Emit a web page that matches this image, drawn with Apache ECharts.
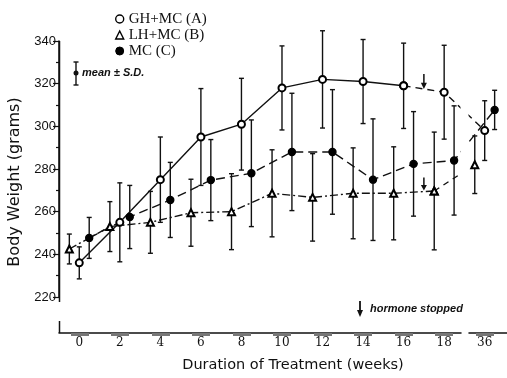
<!DOCTYPE html>
<html>
<head>
<meta charset="utf-8">
<script src="https://cdn.jsdelivr.net/npm/echarts@6/dist/echarts.min.js"></script>
<style>
  html, body { margin: 0; padding: 0; background: #fff; }
  #chart { width: 507px; height: 378px; }
</style>
</head>
<body>
<div id="chart"></div>
<script>
// weeks of treatment (axis is broken between 18 and 36)
const weeks = [0, 2, 4, 6, 8, 10, 12, 14, 16, 18, 36];

// GH + MC (A)
const meanA = [236, 255, 275, 295, 301, 318, 322, 321, 319, 316, 298];
const sdA = [7.5, 18.5, 20, 22.7, 21.5, 19.7, 22.8, 19.7, 20, 22, 14];
// LH + MC (B)
const meanB = [242.5, 253, 255, 259.5, 260, 268.6, 266.7, 268.6, 268.6, 269.7, 282];
const sdB = [7, 11.7, 14.5, 15.7, 17.8, 20.4, 20.5, 21.3, 21.8, 27.6, 13.5];
// MC (C)
const meanC = [247.7, 257.5, 265.5, 274.8, 278, 288, 288, 275, 282.4, 284, 307.7];
const sdC = [9.6, 14.8, 17.6, 19, 25, 27.5, 29.2, 28.5, 24.5, 25.6, 9.2];

const seriesNames = ['GH+MC (A)', 'LH+MC (B)', 'MC (C)'];
const hormoneStopWeek = 17;

// groups are drawn a little apart so the bars don't sit on top of each other
const shiftA = 0, shiftB = -0.49, shiftC = 0.49;

const chart = echarts.init(document.getElementById('chart'), null, { renderer: 'canvas' });

function points(means, shift, from, to) {
  const out = [];
  for (let i = from; i <= to; i++) out.push([weeks[i] + shift, means[i]]);
  return out;
}

function errorBars(means, sds, shift) {
  return {
    type: 'custom',
    silent: true,
    z: 1,
    data: weeks.map((w, i) => [w + shift, means[i] - sds[i], means[i] + sds[i]]),
    encode: { x: 0, y: [1, 2] },
    renderItem: function (params, api) {
      const lo = api.coord([api.value(0), api.value(1)]);
      const hi = api.coord([api.value(0), api.value(2)]);
      const cap = 2.5;
      const style = { stroke: '#111', lineWidth: 1.4, fill: null };
      return {
        type: 'group',
        children: [
          { type: 'line', shape: { x1: lo[0], y1: lo[1], x2: hi[0], y2: hi[1] }, style: style },
          { type: 'line', shape: { x1: lo[0] - cap, y1: lo[1], x2: lo[0] + cap, y2: lo[1] }, style: style },
          { type: 'line', shape: { x1: hi[0] - cap, y1: hi[1], x2: hi[0] + cap, y2: hi[1] }, style: style }
        ]
      };
    }
  };
}

const arrowPath = 'path://M4,0 L6,0 L6,10 L9,10 L5,17 L1,10 L4,10 Z';

function lineSeries(name, data, symbol, dash, extra) {
  return Object.assign({
    name: name,
    type: 'line',
    data: data,
    symbol: symbol,
    symbolSize: 7,
    showSymbol: true,
    z: 3,
    itemStyle: { color: '#000', borderColor: '#000', borderWidth: 1.4 },
    lineStyle: { color: '#111', width: 1.4, type: dash },
    emphasis: { disabled: true },
    animation: false
  }, extra || {});
}

const option = {
  backgroundColor: '#fff',
  animation: false,
  textStyle: { fontFamily: 'Liberation Sans' },
  grid: { left: 59, right: 0, top: 41, bottom: 81 },
  legend: {
    orient: 'vertical',
    left: 110,
    top: 6,
    itemWidth: 8,
    itemHeight: 8,
    itemGap: 0,
    selectedMode: false,
    textStyle: { fontFamily: 'Liberation Serif', fontSize: 15, color: '#111', lineHeight: 16 },
    data: [
      { name: seriesNames[0], icon: 'circle', itemStyle: { color: '#fff', borderColor: '#000', borderWidth: 1.4 } },
      { name: seriesNames[1], icon: 'triangle', itemStyle: { color: '#fff', borderColor: '#000', borderWidth: 1.4 } },
      { name: seriesNames[2], icon: 'circle', itemStyle: { color: '#000', borderColor: '#000', borderWidth: 1 } }
    ]
  },
  xAxis: {
    type: 'value',
    min: -1,
    max: 37.1,
    offset: 36,
    breaks: [{ start: 18.8, end: 35.2, gap: 0.4 }],
    breakArea: {
      show: true,
      zigzagAmplitude: 0,
      itemStyle: { color: '#fff', borderColor: '#fff', borderWidth: 0, opacity: 1 }
    },
    axisLine: { show: true, onZero: false, lineStyle: { color: '#111', width: 1.5 } },
    axisTick: { show: true, customValues: weeks, length: 3, lineStyle: { color: '#777', width: 18 } },
    axisLabel: { customValues: weeks, color: '#111', fontFamily: 'DejaVu Serif', fontSize: 12, margin: 4 },
    splitLine: { show: false }
  },
  yAxis: {
    type: 'value',
    min: 220,
    max: 340,
    interval: 20,
    axisLine: { show: true, onZero: false, lineStyle: { color: '#111', width: 1.5 } },
    axisTick: { show: true, length: 6, lineStyle: { color: '#111', width: 1.2 } },
    minorTick: { show: true, splitNumber: 2, length: 3, lineStyle: { color: '#111', width: 1.2 } },
    axisLabel: { color: '#111', fontSize: 13, margin: 3 },
    splitLine: { show: false }
  },
  graphic: [
    // y axis title
    { type: 'text', x: 15, y: 182, rotation: Math.PI / 2,
      style: { text: 'Body Weight (grams)', font: '16px "DejaVu Sans"', fill: '#111', align: 'center', verticalAlign: 'middle' } },
    // x axis title
    { type: 'text', x: 293, y: 365,
      style: { text: 'Duration of Treatment (weeks)', font: '14.5px "DejaVu Sans"', fill: '#111', align: 'center', verticalAlign: 'middle' } },
    // y axis line (upper piece runs a little past 220, then the axis is broken)
    { type: 'line', z: 10, shape: { x1: 59.5, y1: 41, x2: 59.5, y2: 302 }, style: { stroke: '#111', lineWidth: 1.5 } },
    { type: 'line', z: 10, shape: { x1: 59.5, y1: 321, x2: 59.5, y2: 333 }, style: { stroke: '#111', lineWidth: 1.5 } },
    // mean +- S.D. key
    { type: 'line', shape: { x1: 76, y1: 62, x2: 76, y2: 85 }, style: { stroke: '#111', lineWidth: 1.4 } },
    { type: 'line', shape: { x1: 73.5, y1: 62, x2: 78.5, y2: 62 }, style: { stroke: '#111', lineWidth: 1.4 } },
    { type: 'line', shape: { x1: 73.5, y1: 85, x2: 78.5, y2: 85 }, style: { stroke: '#111', lineWidth: 1.4 } },
    { type: 'circle', shape: { cx: 76, cy: 73, r: 2.5 }, style: { fill: '#111' } },
    { type: 'text', x: 82, y: 73,
      style: { text: 'mean ± S.D.', font: 'italic bold 11px "Liberation Sans"', fill: '#111', verticalAlign: 'middle' } },
    // hormone stopped key
    { type: 'line', shape: { x1: 360, y1: 301, x2: 360, y2: 311 }, style: { stroke: '#111', lineWidth: 1.8 } },
    { type: 'polygon', shape: { points: [[357, 310], [363, 310], [360, 317]] }, style: { fill: '#111' } },
    { type: 'text', x: 370, y: 309,
      style: { text: 'hormone stopped', font: 'italic bold 11px "Liberation Sans"', fill: '#111', verticalAlign: 'middle' } }
  ],
  series: [
    errorBars(meanA, sdA, shiftA),
    errorBars(meanB, sdB, shiftB),
    errorBars(meanC, sdC, shiftC),
    lineSeries(seriesNames[0], points(meanA, shiftA, 0, 8), 'emptyCircle', 'solid'),
    lineSeries(seriesNames[0] + ' off', points(meanA, shiftA, 8, 10), 'emptyCircle', [7, 5], {
      markPoint: {
        symbol: arrowPath, symbolSize: [6, 15], silent: true, label: { show: false },
        itemStyle: { color: '#111' },
        data: [{ coord: [hormoneStopWeek, 321] }]
      }
    }),
    lineSeries(seriesNames[1], points(meanB, shiftB, 0, 9), 'emptyTriangle', [8, 3, 2, 3], {
      markPoint: {
        symbol: arrowPath, symbolSize: [6, 13], silent: true, label: { show: false },
        itemStyle: { color: '#111' },
        data: [{ coord: [hormoneStopWeek, 273] }]
      }
    }),
    lineSeries(seriesNames[1] + ' off', points(meanB, shiftB, 9, 10), 'emptyTriangle', [6, 5]),
    lineSeries(seriesNames[2], points(meanC, shiftC, 0, 10), 'circle', [9, 5])
  ]
};

chart.setOption(option);
</script>
</body>
</html>
